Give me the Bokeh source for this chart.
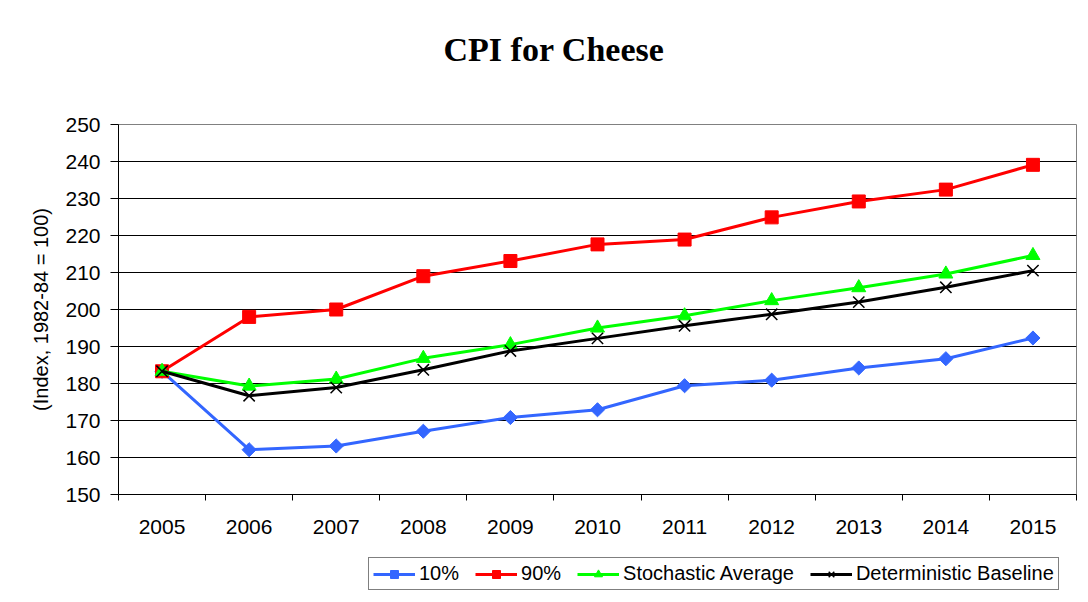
from bokeh.plotting import figure
from bokeh.models import Range1d, FixedTicker, Legend, LegendItem, Title
from bokeh.layouts import column
from bokeh.embed import file_html
from bokeh.resources import INLINE
import math

years = [2005, 2006, 2007, 2008, 2009, 2010, 2011, 2012, 2013, 2014, 2015]
p10 = [183.3, 162.1, 163.1, 167.1, 170.8, 172.9, 179.4, 180.9, 184.2, 186.7, 192.3]
p90 = [183.3, 198.0, 200.0, 209.0, 213.1, 217.6, 218.9, 224.9, 229.2, 232.4, 239.1]
stoch_avg = [183.3, 179.3, 181.2, 186.8, 190.5, 195.0, 198.3, 202.4, 205.9, 209.6, 214.6]
det_base = [183.3, 176.7, 178.9, 183.7, 188.8, 192.2, 195.6, 198.7, 202.0, 206.0, 210.5]
y_ticks = [150, 160, 170, 180, 190, 200, 210, 220, 230, 240, 250]
labels = ["10%", "90%", "Stochastic Average", "Deterministic Baseline"]

FONT = "Liberation Sans"
blue, red, green = "#3366FF", "#FF0000", "#00FF00"

p = figure(width=1086, height=555, output_backend="svg", toolbar_location=None, title=None,
           x_range=Range1d(years[0] - 0.5, years[-1] + 0.5),
           y_range=Range1d(y_ticks[0], y_ticks[-1]),
           min_border_left=118, min_border_right=10, min_border_top=124, min_border_bottom=61)
p.background_fill_color = "white"
p.border_fill_color = "white"
p.outline_line_color = "#808080"
p.outline_line_width = 1

# spacer between frame and title, then the title itself
p.add_layout(Title(text=" ", text_font_size="10px", standoff=44), "above")
p.add_layout(Title(text="CPI for Cheese", align="left", text_font="Liberation Serif",
                   text_font_style="bold", text_font_size="34px", text_color="black",
                   standoff=0, offset=325), "above")

# axes
p.xaxis.ticker = FixedTicker(ticks=years, minor_ticks=[y - 0.5 for y in years] + [years[-1] + 0.5])
p.xaxis.major_tick_line_color = None
p.xaxis.major_tick_out = 6
p.xaxis.major_tick_in = 0
p.xaxis.minor_tick_out = 6
p.xaxis.minor_tick_in = 0
p.xaxis.minor_tick_line_color = "black"
p.xaxis.axis_line_color = "black"
p.xaxis.major_label_text_font = FONT
p.xaxis.major_label_text_font_size = "21px"
p.xaxis.major_label_text_color = "black"
p.xaxis.major_label_standoff = 19

p.yaxis.ticker = FixedTicker(ticks=y_ticks, minor_ticks=[])
p.yaxis.major_tick_out = 8
p.yaxis.major_tick_in = 0
p.yaxis.major_tick_line_color = "black"
p.yaxis.axis_line_color = "black"
p.yaxis.major_label_text_font = FONT
p.yaxis.major_label_text_font_size = "21px"
p.yaxis.major_label_text_color = "black"
p.yaxis.major_label_standoff = 10
p.yaxis.axis_label = "(Index, 1982-84 = 100)"
p.yaxis.axis_label_text_font = FONT
p.yaxis.axis_label_text_font_size = "20px"
p.yaxis.axis_label_text_font_style = "normal"
p.yaxis.axis_label_text_color = "black"
p.yaxis.axis_label_standoff = 10

p.xgrid.grid_line_color = None
p.ygrid.ticker = FixedTicker(ticks=y_ticks)
p.ygrid.grid_line_color = "black"
p.ygrid.grid_line_width = 1


def draw_series(fig):
    rs = []
    l1 = fig.line(years, p10, line_color=blue, line_width=3)
    m1 = fig.scatter(years, p10, marker="square", size=10, angle=math.pi / 4,
                     fill_color=blue, line_color=blue)
    l2 = fig.line(years, p90, line_color=red, line_width=3)
    m2 = fig.scatter(years, p90, marker="square", size=13, fill_color=red, line_color=red)
    l3 = fig.line(years, stoch_avg, line_color=green, line_width=3)
    m3 = fig.scatter(years, stoch_avg, marker="triangle", size=14, fill_color=green, line_color=green)
    l4 = fig.line(years, det_base, line_color="black", line_width=3)
    m4 = fig.scatter(years, det_base, marker="x", size=16, line_color="black", line_width=1.5)
    return [[l1, m1], [l2, m2], [l3, m3], [l4, m4]]


draw_series(p)

# legend strip below the chart (its own small figure; series lie outside its view)
pl = figure(width=1086, height=45, output_backend="svg", toolbar_location=None, title=None,
            x_range=Range1d(0, 1), y_range=Range1d(0, 1),
            min_border_left=0, min_border_right=0, min_border_top=0, min_border_bottom=0)
pl.axis.visible = False
pl.grid.grid_line_color = None
pl.outline_line_color = None
pl.background_fill_color = "white"
pl.border_fill_color = "white"
leg_rs = draw_series(pl)

legend = Legend(items=[LegendItem(label=lab, renderers=rs) for lab, rs in zip(labels, leg_rs)],
                orientation="horizontal", location=(250, 10),
                label_text_font=FONT, label_text_font_size="20px", label_text_color="black",
                glyph_width=42, glyph_height=20, label_height=20, label_standoff=4, spacing=16,
                padding=4, margin=0, border_line_color="black", border_line_width=1,
                background_fill_alpha=1)
pl.add_layout(legend, "center")

layout = column(p, pl, spacing=0)
open("out.html", "w").write(file_html(layout, INLINE))
